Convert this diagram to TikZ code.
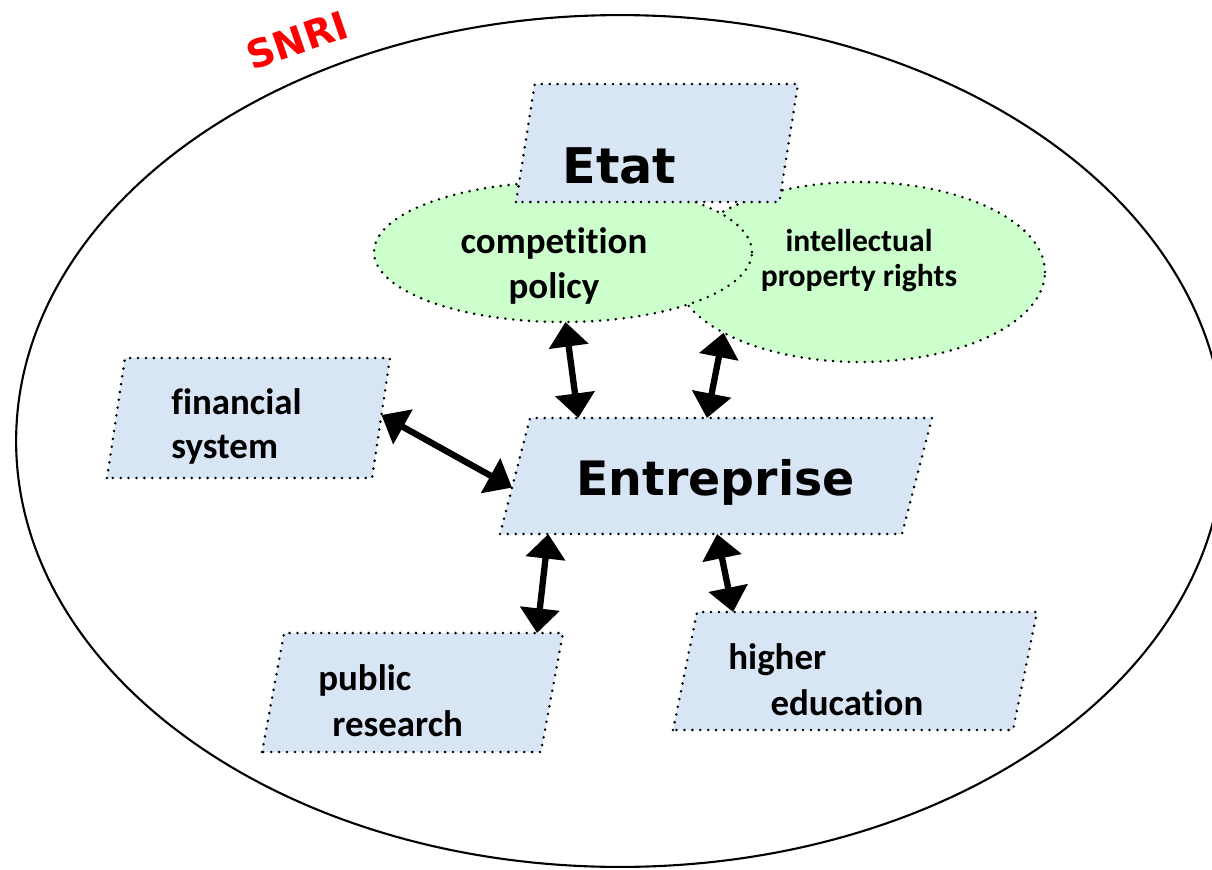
\documentclass[tikz,border=0pt]{standalone}
\usepackage{fontspec}
\setmainfont{Carlito}[Ligatures=NoCommon]
\newfontfamily\dejavu{DejaVu Sans}
\usetikzlibrary{shapes.geometric,arrows.meta,calc}

\definecolor{boxblue}{RGB}{216,229,245}
\definecolor{ovalgreen}{RGB}{204,255,204}
\definecolor{snrired}{RGB}{255,0,0}

\tikzset{
  dotline/.style={draw=black, line width=1.6pt, dash pattern=on 0pt off 4.5pt, line cap=round},
  orgbox/.style n args={3}{trapezium, trapezium left angle=#1, trapezium right angle=#2,
    trapezium stretches body=true, fill=boxblue, dotline, inner xsep=0pt, inner ysep=#3, outer sep=0pt},
  policyoval/.style={ellipse, fill=ovalgreen, dotline, inner sep=0pt, outer sep=0pt},
  txt/.style={font=\bfseries\fontsize{21}{26}\selectfont, inner sep=0pt},
  bigtxt/.style={font=\dejavu\bfseries\fontsize{28}{34}\selectfont, inner sep=0pt},
  link/.style={{Triangle[length=14pt,width=22pt]}-{Triangle[length=14pt,width=22pt]}, line width=3.6pt},
}

\begin{document}
\begin{tikzpicture}[x=0.02cm,y=-0.02cm]
\useasboundingbox (0,0) rectangle (1212,869);
\clip (0,0) rectangle (1212,869);
% the whole system
\draw[line width=1.2pt] (620,441) ellipse [x radius=12.08cm, y radius=8.52cm];
\node[rotate=19, text=snrired, inner sep=0pt, font=\dejavu\bfseries\fontsize{22}{26}\selectfont] (snri) at (297,40) {SNRI};

% state policies
\node[policyoval, minimum width=7.4cm, minimum height=3.6cm] (ipr) at (860,272) {};
\node[policyoval, minimum width=7.56cm, minimum height=2.8cm] (comp) at (563,252) {};

% actors
\node[orgbox={81}{99}{1.18cm}, minimum width=5.64cm] (etat) at (657,143) {};
\node[orgbox={75.5}{104.5}{1.16cm}, minimum width=8.64cm] (ent) at (716,476) {};
\node[orgbox={81.5}{98.5}{1.2cm}, minimum width=5.66cm] (fin) at (248.5,418) {};
\node[orgbox={79.5}{100.5}{1.19cm}, minimum width=6.02cm] (pub) at (412.5,692.5) {};
\node[orgbox={78.5}{101.5}{1.18cm}, minimum width=7.28cm] (high) at (855,671) {};

% labels
\node[bigtxt, anchor=base] (etat-t) at (619.5,183) {Etat};
\node[bigtxt, font=\dejavu\bfseries\fontsize{27}{32}\selectfont, anchor=base] (ent-t) at (715.5,495) {Entreprise};
\node[txt, align=center] (comp-t) at (554,266) {competition\\policy};
\node[txt, align=center, font=\bfseries\fontsize{18}{20}\selectfont] (ipr-t) at (859,261) {intellectual\\property rights};
\node[txt, align=left, anchor=west, font=\bfseries\fontsize{21}{25}\selectfont] (fin-t) at (171,426) {financial\\system};
\node[txt, align=left, anchor=west] (pub-t) at (318,701) {public\\\hspace*{8pt}research};
\node[txt, align=left, anchor=west] (high-t) at (728,680) {higher\\\hspace*{24pt}education};

% links
\draw[link] (comp.-88) -- ($(ent.top left corner)!0.12!(ent.top right corner)$);
\draw[link] (ipr.204) -- ($(ent.top left corner)!0.44!(ent.top right corner)$);
\draw[link] ($(fin.top right corner)!0.475!(fin.bottom right corner)$) -- ($(ent.top left corner)!0.6!(ent.bottom left corner)$);
\draw[link] ($(ent.bottom left corner)!0.12!(ent.bottom right corner)$) -- ($(pub.top left corner)!0.907!(pub.top right corner)$);
\draw[link] ($(ent.bottom left corner)!0.54!(ent.bottom right corner)$) -- ($(high.top left corner)!0.106!(high.top right corner)$);
\end{tikzpicture}
\end{document}
